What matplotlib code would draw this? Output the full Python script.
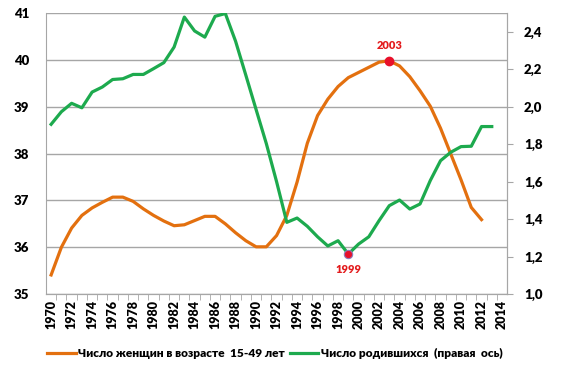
import matplotlib.pyplot as plt
import numpy as np
from matplotlib.ticker import FixedLocator, FuncFormatter

# data
years = list(range(1970, 2014))
women = [35.41, 36.00, 36.41, 36.68, 36.84, 36.96, 37.07, 37.07, 36.98, 36.82,
         36.68, 36.56, 36.46, 36.48, 36.57, 36.66, 36.66, 36.50, 36.31, 36.14,
         36.01, 36.01, 36.25, 36.68, 37.39, 38.22, 38.81, 39.16, 39.43, 39.62,
         39.73, 39.84, 39.95, 39.98, 39.87, 39.64, 39.34, 39.01, 38.54, 37.99,
         37.44, 36.85, 36.59, None]
births = [1.906, 1.973, 2.018, 1.994, 2.078, 2.105, 2.145, 2.149, 2.172, 2.172,
          2.203, 2.235, 2.318, 2.478, 2.404, 2.371, 2.482, 2.497, 2.349, 2.168,
          1.985, 1.803, 1.600, 1.383, 1.406, 1.362, 1.306, 1.257, 1.285, 1.214,
          1.267, 1.306, 1.392, 1.472, 1.502, 1.454, 1.481, 1.606, 1.712, 1.757,
          1.787, 1.789, 1.894, 1.894]
women_label = 'Число женщин в возрасте  15-49 лет'
births_label = 'Число родившихся  (правая  ось)'

orange = '#E3700F'
green = '#1DAA4E'
grid = '#A6A6A6'

plt.rcParams['font.family'] = ['Lato', 'Open Sans', 'DejaVu Sans']
plt.rcParams['font.weight'] = 'heavy'

fig = plt.figure(figsize=(5.61, 3.70), dpi=100)
ax1 = fig.add_axes([0.082, 0.205, 0.822, 0.76])
ax2 = ax1.twinx()

w = np.array([np.nan if v is None else v for v in women])
l1, = ax1.plot(years, w, color=orange, lw=2.3, zorder=3)
l2, = ax2.plot(years, births, color=green, lw=2.3, zorder=3)

# highlighted points
i03 = years.index(2003)
ax1.plot(2003, women[i03], 'o', color='#E8102A', ms=6, zorder=5)
ax1.annotate('2003', (2003, women[i03]), xytext=(0, 7), textcoords='offset points',
             ha='center', va='bottom', color='#E31A1C', fontsize=8)
i99 = years.index(1999)
ax2.plot(1999, births[i99], 'o', color='#E8102A', mec='#8E7BB8', mew=0.8, ms=6, zorder=5)
ax2.annotate('1999', (1999, births[i99]), xytext=(0, -7), textcoords='offset points',
             ha='center', va='top', color='#E31A1C', fontsize=8)

ax1.set_xlim(1969.5, 2014.5)
ax1.set_ylim(35, 41)
ax1.set_yticks(range(35, 42))
ax2.set_ylim(1.0, 2.5)
ax2.set_yticks(np.arange(1.0, 2.41, 0.2))
ax2.yaxis.set_major_formatter(FuncFormatter(lambda v, p: f'{v:.1f}'.replace('.', ',')))

ax1.set_xticks(range(1970, 2015, 2))
ax1.set_xticklabels([str(y) for y in range(1970, 2015, 2)], rotation=90)
ax1.xaxis.set_minor_locator(FixedLocator(np.arange(1970.5, 2014.5, 1)))
ax1.tick_params(axis='x', which='major', length=0, pad=4, labelsize=9)
ax1.tick_params(axis='x', which='minor', length=4, color=grid)
ax1.tick_params(axis='y', length=0, pad=12, labelsize=9.5)
ax2.tick_params(axis='y', length=4, color=grid, pad=8, labelsize=9.5)

ax1.grid(axis='y', color=grid, lw=1)
ax1.set_axisbelow(True)
for a in (ax1, ax2):
    a.spines['top'].set_visible(False)
    for s in ('left', 'right', 'bottom'):
        a.spines[s].set_color(grid)
ax2.spines['left'].set_visible(False)

fig.legend([l1, l2], [women_label, births_label], loc='lower center',
           bbox_to_anchor=(0.49, 0.0), ncol=2, frameon=False, fontsize=8.6,
           handlelength=2.4, columnspacing=0.4, handletextpad=0.2)

fig.savefig('out.png', dpi=100)
